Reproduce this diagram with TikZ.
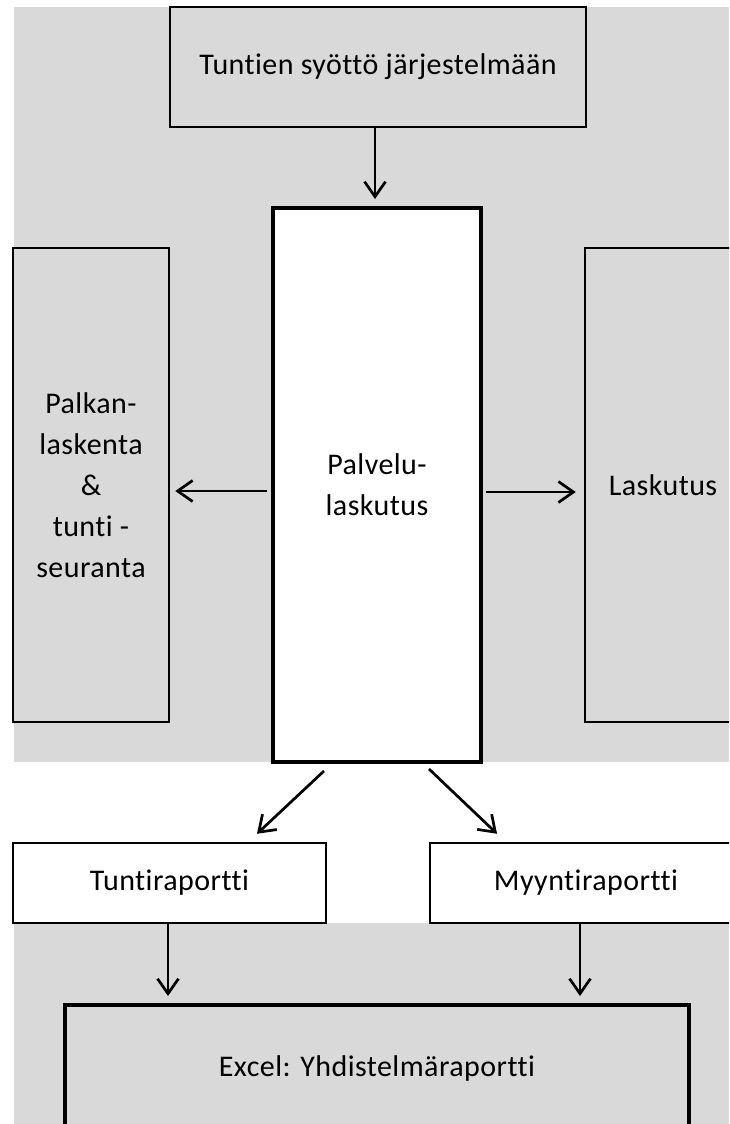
\documentclass[tikz,border=0pt]{standalone}
\usepackage{fontspec}
\setmainfont{Carlito}[Ligatures={NoCommon}, LetterSpace=1.5]
\usetikzlibrary{arrows.meta}
\definecolor{bggray}{RGB}{217,217,217}
\tikzset{
  txt/.style={font=\fontsize{30}{41}\selectfont, align=center, inner sep=0pt},
  thinbox/.style={draw=black, line width=2.5pt, txt},
  thickbox/.style={draw=black, line width=4pt, txt},
  conn/.style={line width=2.7pt, -{Straight Barb[length=15pt,width=21pt]}}
}
\begin{document}
\begin{tikzpicture}[x=1pt,y=-1pt]
\useasboundingbox (0,0) rectangle (729,1124);
\clip (0,0) rectangle (729,1124);
\fill[white] (0,0) rectangle (729,1124);
% gray backgrounds
\fill[bggray] (14,7) rectangle (729,762);
\fill[bggray] (14,923) rectangle (729,1124);
% boxes
\node[thinbox, fill=bggray, minimum width=416pt, minimum height=120pt] (top) at (378,67) {Tuntien syöttö järjestelmään};
\node[thickbox, fill=white, minimum width=208pt, minimum height=554pt] (center) at (377,485) {Palvelu-\\laskutus};
\node[thinbox, fill=bggray, minimum width=156pt, minimum height=474pt] (left) at (91,485) {Palkan-\\laskenta\\\&\\tunti -\\seuranta};
\node[thinbox, fill=bggray, minimum width=156pt, minimum height=474pt] (right) at (663,485) {Laskutus};
\node[thinbox, fill=white, minimum width=313pt, minimum height=80pt] (tunti) at (169.5,883) {Tuntiraportti};
\node[thinbox, fill=white, minimum width=312pt, minimum height=80pt] (myynti) at (586,883) {Myyntiraportti};
\node[thickbox, fill=bggray, minimum width=624pt, minimum height=126pt] (excel) at (377,1068) {Excel: Yhdistelmäraportti};
% connectors
\draw[conn] ([xshift=-3pt]top.south) -- ([xshift=-3pt,yshift=7pt]top.south |- center.north);
\draw[conn] ([xshift=-4pt,yshift=-6pt]center.west) -- ([xshift=5pt,yshift=-6pt]left.east);
\draw[conn] ([xshift=3pt,yshift=-7pt]center.east) -- ([xshift=-8pt,yshift=-7pt]right.west);
\draw[conn] ([xshift=-53pt,yshift=-7pt]center.south) -- ([xshift=87.5pt,yshift=8pt]tunti.north);
\draw[conn] ([xshift=52pt,yshift=-5pt]center.south) -- ([xshift=-89pt,yshift=8pt]myynti.north);
\draw[conn] ([xshift=-1.5pt]tunti.south) -- ([xshift=-1.5pt,yshift=7pt]tunti.south |- excel.north);
\draw[conn] ([xshift=-6pt]myynti.south) -- ([xshift=-6pt,yshift=7pt]myynti.south |- excel.north);
\end{tikzpicture}
\end{document}
